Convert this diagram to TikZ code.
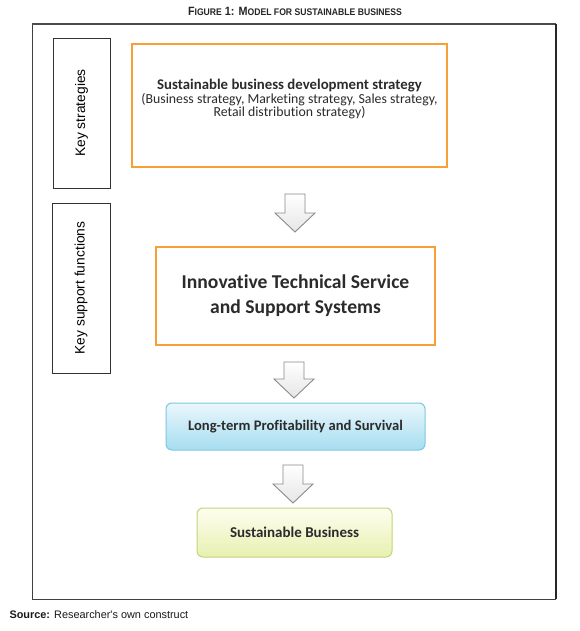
\documentclass[tikz,border=0pt]{standalone}
\usepackage{fontspec}
\setmainfont{Carlito}[Ligatures=NoCommon]
\newfontfamily\arialf{Liberation Sans}
\usetikzlibrary{calc}
\definecolor{orangeb}{HTML}{F7A035}
\definecolor{blueb}{HTML}{7CC8E2}
\definecolor{bluetop}{HTML}{EAF7FC}
\definecolor{bluebot}{HTML}{A6DDF0}
\definecolor{greenb}{HTML}{C2D57A}
\definecolor{greentop}{HTML}{FDFEF0}
\definecolor{greenbot}{HTML}{E8F0B0}
\definecolor{txt}{HTML}{2B2B2B}
\definecolor{arrowb}{HTML}{8A8A8A}
\tikzset{
  orangebox/.style={draw=orangeb, line width=1.8pt, fill=white},
  sidebox/.style={draw=black!80, line width=0.8pt},
  bluebox/.style={draw=blueb, line width=1pt, rounded corners=6pt, top color=bluetop, bottom color=bluebot},
  greenbox/.style={draw=greenb, line width=1pt, rounded corners=6pt, top color=greentop, bottom color=greenbot},
  blockarr/.style={draw=arrowb, line width=0.9pt, top color=white, bottom color=black!10, line join=miter},
  sidelabel/.style={rotate=90, font=\arialf\fontsize{13.8}{16}\selectfont, text=black},
}
\newcommand\barrow[2]{%
  \path[blockarr] let \p1=(#1), \p2=(#2) in
    (\x1-10,\y1) -- (\x1+10,\y1) -- (\x1+10,\y2+19) -- (\x1+20,\y2+19)
    -- (\x2,\y2) -- (\x1-20,\y2+19) -- (\x1-10,\y2+19) -- cycle;}
\begin{document}
\begin{tikzpicture}[x=1pt,y=-1pt]
\useasboundingbox (0,0) rectangle (580,631);
\fill[white] (0,0) rectangle (580,631);
% title
\node[font=\arialf\bfseries, text=black!85, xscale=0.9] (title) at (295,11)
  {{\fontsize{12}{13}\selectfont F}{\fontsize{9.6}{11}\selectfont IGURE}{\fontsize{12}{13}\selectfont\ 1: M}{\fontsize{9.6}{11}\selectfont ODEL FOR SUSTAINABLE BUSINESS}};
% frame
\draw[black!75, line width=0.8pt] (32,24) -- (32,599) -- (556,599);
\draw[black!70, line width=1.8pt] (32,24) -- (556,24);
\draw[black!85, line width=1.3pt] (556,24) -- (556,599);
% side boxes
\node[sidebox, minimum width=57pt, minimum height=150pt] (ks) at (81.5,113) {};
\node[sidelabel] at (ks.center) {Key strategies};
\node[sidebox, minimum width=58pt, minimum height=170pt] (ksf) at (81,288) {};
\node[sidelabel] at (ksf.center) {Key support functions};
% boxes
\node[orangebox, minimum width=315pt, minimum height=123pt] (s1) at (289.5,105.5) {};
\node[align=center, text=txt] (s1t) at (289.5,99)
  {{\fontsize{14.8}{16}\selectfont\bfseries Sustainable business development strategy}\\[-0.5pt]
   {\fontsize{13.8}{16}\selectfont (Business strategy, Marketing strategy, Sales strategy,}\\[-0.5pt]
   {\fontsize{13.8}{16}\selectfont Retail distribution strategy)}};
\node[orangebox, minimum width=279pt, minimum height=98pt, align=center, text=txt,
  font=\fontsize{19.6}{25}\selectfont\bfseries] (s2) at (295.5,296)
  {Innovative Technical Service\\and Support Systems};
\node[bluebox, minimum width=259pt, minimum height=47pt, text=txt,
  font=\fontsize{14.6}{16}\selectfont\bfseries] (s3) at (295.5,426.5)
  {Long-term Profitability and Survival};
\node[greenbox, minimum width=195pt, minimum height=49pt, text=txt,
  font=\fontsize{15}{16}\selectfont\bfseries] (s4) at (294.5,532.5)
  {Sustainable Business};
% block arrows
\coordinate (a1s) at (295,194); \coordinate (a1e) at (295,232);
\coordinate (a2s) at (294,362); \coordinate (a2e) at (294,398);
\coordinate (a3s) at (293,465); \coordinate (a3e) at (293,503);
\barrow{a1s}{a1e}
\barrow{a2s}{a2e}
\barrow{a3s}{a3e}
% source
\node[anchor=west, font=\arialf\fontsize{10.9}{13}\selectfont, text=black!90] (src) at (6,615)
  {\textbf{Source:} Researcher's own construct};
\end{tikzpicture}
\end{document}
